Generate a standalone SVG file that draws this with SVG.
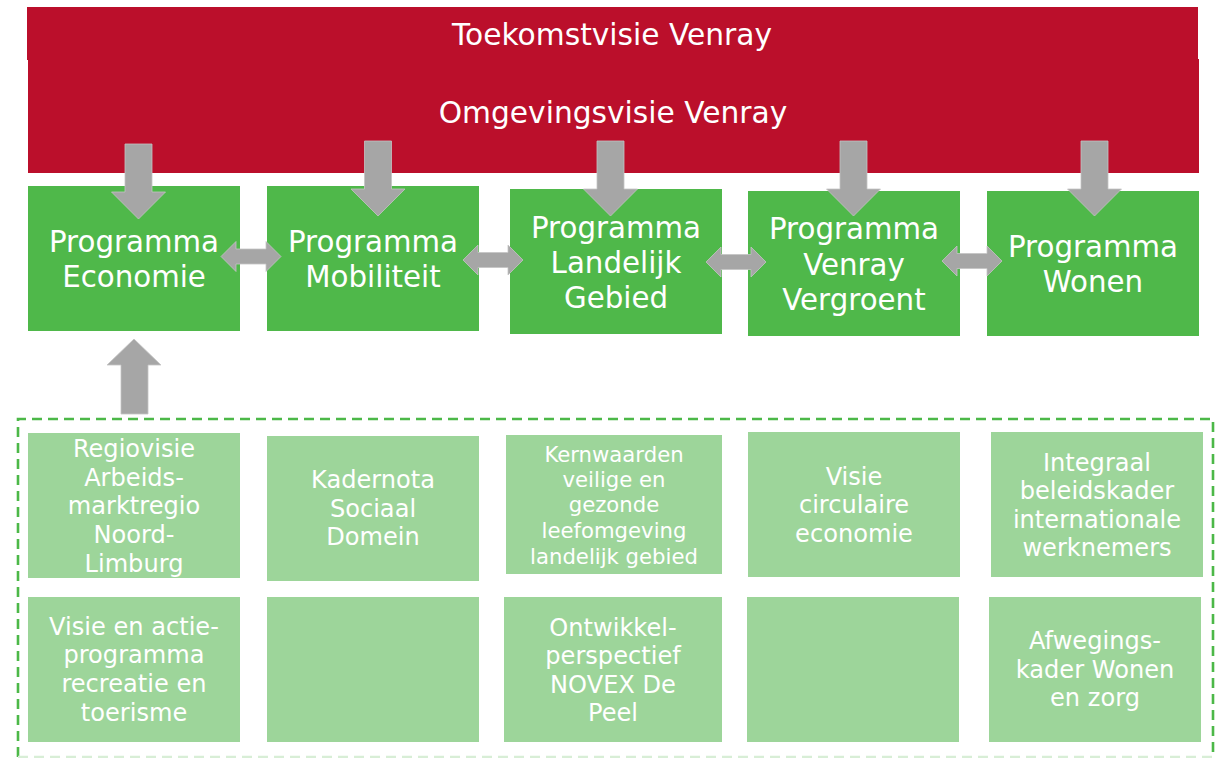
<svg xmlns="http://www.w3.org/2000/svg" xmlns:xlink="http://www.w3.org/1999/xlink" width="1221" height="758" viewBox="0 0 1221 758">
<style>
text{font-family:"DejaVu Sans","Liberation Sans",sans-serif;fill:#ffffff;text-anchor:middle}
.red{fill:#bb0f2b}
.prog{fill:#4fb84a}
.doc{fill:#9dd59a}
.t1{font-size:29.7px}
.t2{font-size:29.3px}
.t3{font-size:24.1px}
.t4{font-size:21.2px}
.arr{fill:#a6a6a6;stroke:#c4c4c4;stroke-width:0.8}
.dash{fill:none;stroke:#4cb848;stroke-width:2.6;stroke-dasharray:10 6}
</style>
<defs>
<path id="down" d="M-13.5,0 H13.5 V48 H27 L0,75 L-27,48 H-13.5 Z"/>
<path id="dbl" d="M0,0 L15,-15 V-7.5 H45 V-15 L60,0 L45,15 V7.5 H15 V15 Z"/>
</defs>
<rect x="0" y="0" width="1221" height="758" fill="#ffffff"/>
<g id="visie">
<rect class="red" x="27" y="7" width="1171" height="53"/>
<rect class="red" x="28" y="59" width="1171" height="114"/>
<text class="t1" x="612" y="45">Toekomstvisie Venray</text>
<text class="t1" x="613" y="123">Omgevingsvisie Venray</text>
</g>
<g id="prog-economie">
<rect class="prog" x="28" y="186" width="212" height="145"/>
<text class="t2" x="134" y="252">Programma</text>
<text class="t2" x="134" y="287">Economie</text>
</g>
<g id="prog-mobiliteit">
<rect class="prog" x="267" y="186" width="212" height="145"/>
<text class="t2" x="373" y="252">Programma</text>
<text class="t2" x="373" y="287">Mobiliteit</text>
</g>
<g id="prog-landelijk">
<rect class="prog" x="510" y="189" width="212" height="145"/>
<text class="t2" x="616" y="238">Programma</text>
<text class="t2" x="616" y="273">Landelijk</text>
<text class="t2" x="616" y="308">Gebied</text>
</g>
<g id="prog-vergroent">
<rect class="prog" x="748" y="191" width="212" height="145"/>
<text class="t2" x="854" y="239">Programma</text>
<text class="t2" x="854" y="275">Venray</text>
<text class="t2" x="854" y="310">Vergroent</text>
</g>
<g id="prog-wonen">
<rect class="prog" x="987" y="191" width="212" height="145"/>
<text class="t2" x="1093" y="257">Programma</text>
<text class="t2" x="1093" y="292">Wonen</text>
</g>
<g id="beleid">
<path class="dash" d="M18,757 V419 H1213 V757"/>
<path class="dash" d="M18,757 H1213" stroke="#d8eed6" style="stroke:#d8eed6"/>
</g>
<g id="doc-regiovisie">
<rect class="doc" x="28" y="433" width="212" height="145"/>
<text class="t3" x="134" y="457">Regiovisie</text>
<text class="t3" x="134" y="486">Arbeids-</text>
<text class="t3" x="134" y="514">marktregio</text>
<text class="t3" x="134" y="543">Noord-</text>
<text class="t3" x="134" y="572">Limburg</text>
</g>
<g id="doc-kadernota">
<rect class="doc" x="267" y="436" width="212" height="145"/>
<text class="t3" x="373" y="488">Kadernota</text>
<text class="t3" x="373" y="517">Sociaal</text>
<text class="t3" x="373" y="545">Domein</text>
</g>
<g id="doc-kernwaarden">
<rect class="doc" x="506" y="435" width="216" height="139"/>
<text class="t4" x="614" y="462">Kernwaarden</text>
<text class="t4" x="614" y="487">veilige en</text>
<text class="t4" x="614" y="512">gezonde</text>
<text class="t4" x="614" y="538">leefomgeving</text>
<text class="t4" x="614" y="564">landelijk gebied</text>
</g>
<g id="doc-circulair">
<rect class="doc" x="748" y="432" width="212" height="145"/>
<text class="t3" x="854" y="485">Visie</text>
<text class="t3" x="854" y="513">circulaire</text>
<text class="t3" x="854" y="542">economie</text>
</g>
<g id="doc-integraal">
<rect class="doc" x="991" y="432" width="212" height="145"/>
<text class="t3" x="1097" y="471">Integraal</text>
<text class="t3" x="1097" y="499">beleidskader</text>
<text class="t3" x="1097" y="528">internationale</text>
<text class="t3" x="1097" y="556">werknemers</text>
</g>
<g id="doc-recreatie">
<rect class="doc" x="28" y="597" width="212" height="145"/>
<text class="t3" x="134" y="635">Visie en actie-</text>
<text class="t3" x="134" y="663">programma</text>
<text class="t3" x="134" y="692">recreatie en</text>
<text class="t3" x="134" y="721">toerisme</text>
</g>
<g id="doc-leeg1">
<rect class="doc" x="267" y="597" width="212" height="145"/>
</g>
<g id="doc-novex">
<rect class="doc" x="504" y="597" width="218" height="145"/>
<text class="t3" x="613" y="636">Ontwikkel-</text>
<text class="t3" x="613" y="664">perspectief</text>
<text class="t3" x="613" y="693">NOVEX De</text>
<text class="t3" x="613" y="721">Peel</text>
</g>
<g id="doc-leeg2">
<rect class="doc" x="747" y="597" width="212" height="145"/>
</g>
<g id="doc-afwegingskader">
<rect class="doc" x="989" y="597" width="212" height="145"/>
<text class="t3" x="1095" y="649">Afwegings-</text>
<text class="t3" x="1095" y="678">kader Wonen</text>
<text class="t3" x="1095" y="706">en zorg</text>
</g>
<g id="connectors">
<use xlink:href="#down" class="arr" transform="translate(138.5,144)"/>
<use xlink:href="#down" class="arr" transform="translate(378,141)"/>
<use xlink:href="#down" class="arr" transform="translate(610.5,141)"/>
<use xlink:href="#down" class="arr" transform="translate(853.5,141)"/>
<use xlink:href="#down" class="arr" transform="translate(1094.5,141)"/>
<use xlink:href="#dbl" class="arr" transform="translate(221,256.5)"/>
<use xlink:href="#dbl" class="arr" transform="translate(463,260)"/>
<use xlink:href="#dbl" class="arr" transform="translate(706,262)"/>
<use xlink:href="#dbl" class="arr" transform="translate(942,261)"/>
<path class="arr" d="M134,339 L161,365 H148 V414 H121 V365 H107 Z"/>
</g>
</svg>
